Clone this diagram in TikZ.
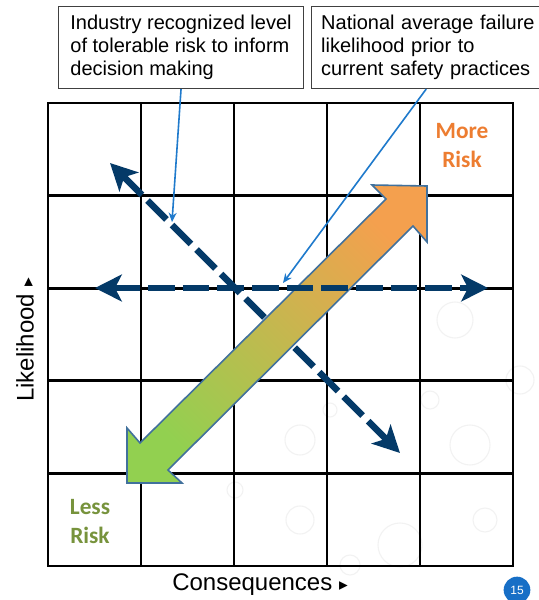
\documentclass[tikz,border=0pt]{standalone}
\usepackage{fontspec}
\setmainfont{Liberation Sans}
\newfontfamily\calibri{Carlito}
\newfontfamily\dejavu{DejaVu Sans}
\usetikzlibrary{arrows.meta}
\definecolor{navy}{RGB}{4,58,104}
\definecolor{callblue}{RGB}{31,122,204}
\definecolor{arrowedge}{RGB}{65,113,156}
\definecolor{riskorange}{RGB}{237,125,49}
\definecolor{riskgreen}{RGB}{119,147,60}
\definecolor{gradgreen}{RGB}{146,208,80}
\definecolor{gradorange}{RGB}{244,160,78}
\definecolor{pagebadge}{RGB}{23,111,198}
\definecolor{boxedge}{RGB}{64,64,64}
\tikzset{
  gridline/.style={line width=2.2pt, black, line cap=rect},
  bubble/.style={draw=gray!10, line width=0.8pt},
  navydash/.style={navy, line width=5pt, dash pattern=on 20pt off 6pt,
    {Stealth[length=20pt,width=20pt,inset=5pt]}-{Stealth[length=20pt,width=20pt,inset=5pt]}},
  callout/.style={callblue, line width=1.2pt, -{Stealth[length=7pt,width=6pt]}},
  notebox/.style={draw=boxedge, line width=0.8pt, fill=white, align=left,
    minimum height=61.5pt, inner xsep=0pt,
    font=\fontsize{15}{17.3}\selectfont},
  risklabel/.style={align=center, font=\calibri\bfseries\fontsize{17.5}{21.75}\selectfont},
  axislabel/.style={font=\fontsize{18}{20}\selectfont},
}
\newcommand{\tri}{{\dejavu\fontsize{13}{13}\selectfont ▸}}
\begin{document}
\begin{tikzpicture}[x=0.75pt, y=-0.75pt]
\useasboundingbox (0,0) rectangle (539,600);
\fill[white] (0,0) rectangle (539,600);

% faint background bubbles
\foreach \cx/\cy/\r in {300/440/15, 455/320/18, 470/445/20, 300/520/14, 400/545/22, 485/520/12, 350/565/10, 235/490/8, 520/380/14, 430/400/9, 330/410/7}
  \draw[bubble] (\cx,\cy) circle (\r);

% grid
\foreach \i in {0,...,5} {
  \draw[gridline] (48+93*\i,103) -- (48+93*\i,566);
  \draw[gridline] (48,103+92.6*\i) -- (513,103+92.6*\i);
}

% endpoints of dashed arrows
\coordinate (dA) at (110,163);
\coordinate (dB) at (400,453);
\coordinate (hA) at (95,288);
\coordinate (hB) at (488,288);

% diagonal dashed arrow (under the block arrow)
\draw[navydash] (dA) -- (dB);

% gradient block arrow
\shade[draw=arrowedge, line width=1.2pt, line join=miter,
  top color=gradorange, bottom color=gradgreen, shading angle=-45]
  (427,186) -- (427,242) -- (413,226) -- (168,470) -- (182,483) --
  (127,483) -- (127,428) -- (140,443) -- (386,199) -- (372,185) -- cycle;

% horizontal dashed arrow
\draw[navydash] (hA) -- (hB);

% note boxes
\node[notebox, anchor=north west, minimum width=183.75pt] (box1) at (58,6)
  {Industry recognized level\\of tolerable risk to inform\\decision making};
\node[notebox, anchor=north west, minimum width=181pt, text width=166.5pt] (box2) at (311,6)
  {National average failure\\likelihood prior to\\current safety practices};

\coordinate (t1) at (172,222);
\coordinate (t2) at (283,283);
\draw[callout] (box1.south) -- (t1);
\draw[callout] ([xshift=-4.5pt]box2.south) -- (t2);

% risk labels
\node[risklabel, text=riskorange] (more) at (462,146) {More\\Risk};
\node[risklabel, text=riskgreen] (less) at (90,522) {Less\\Risk};

% axis labels
\node[axislabel, rotate=90] (ylab) at (25,340) {Likelihood \tri};
\node[axislabel] (xlab) at (260,585) {Consequences \tri};

% page number
\node[circle, fill=pagebadge, text=white, minimum size=20pt, inner sep=0pt,
  font=\fontsize{9}{10}\selectfont] (page) at (517,590) {15};
\end{tikzpicture}
\end{document}
